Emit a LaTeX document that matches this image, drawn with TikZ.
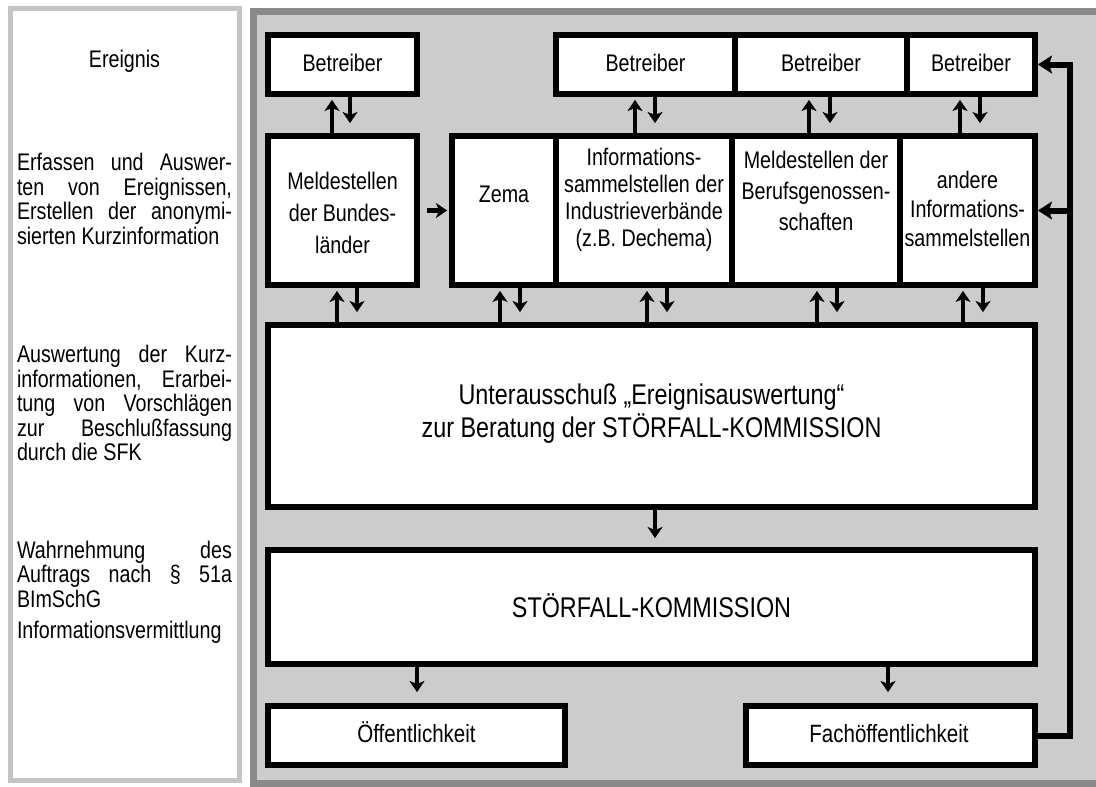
\documentclass[tikz,border=0pt]{standalone}
\usepackage{fontspec}
\setmainfont[FakeStretch=0.82]{Liberation Sans}
\usetikzlibrary{arrows.meta}
\definecolor{panelfill}{RGB}{204,204,204}
\definecolor{panelborder}{RGB}{138,138,138}
\definecolor{leftborder}{RGB}{196,196,196}
\tikzset{
  box/.style={draw=black, line width=6pt, fill=white, inner sep=0pt, outer sep=3pt},
  boxtxt/.style={align=center, inner sep=0pt, font=\fontsize{24}{30}\selectfont},
  basetxt/.style={anchor=base, inner sep=0pt, font=\fontsize{24}{30}\selectfont},
  bigtxt/.style={align=center, inner sep=0pt, font=\fontsize{28.5}{33}\selectfont},
  lefttxt/.style={align=justify, text width=215pt, inner sep=0pt, font=\fontsize{24}{24.5}\selectfont},
  tip/.tip={Stealth[length=11pt,width=15pt,inset=3pt,line width=0.4pt]},
  bigtip/.tip={Stealth[length=14pt,width=18pt,inset=3pt,line width=0.4pt]},
  uparr/.style={line width=4.5pt, -tip, shorten >=3pt},
  dnarr/.style={line width=4.5pt, -tip, shorten >=10pt},
  fbline/.style={line width=6pt, -bigtip}
}
\newcommand\udpair[4]{%
  \draw[uparr] (#1,0 |- #3.north) -- (#1,0 |- #4.south);
  \draw[dnarr] (#2,0 |- #4.south) -- (#2,0 |- #3.north);}
\begin{document}
\begin{tikzpicture}[x=1pt,y=-1pt]
\useasboundingbox (0,0) rectangle (1096,787);
\clip (0,0) rectangle (1096,787);
\fill[white] (0,0) rectangle (1096,787);
% panels
\draw[leftborder, line width=5pt, fill=white] (10.5,8) rectangle (239.5,780);
\draw[panelborder, line width=7pt, fill=panelfill] (253.5,11) rectangle (1110,783);

% left column texts
\node[boxtxt] (lt1) at (124.5,61) {Ereignis};
\node[lefttxt] (lt2) at (124.5,199) {Erfassen und Auswer-\linebreak ten von Ereignissen,\linebreak Erstellen der anonymi-\linebreak sierten Kurzinformation};
\node[lefttxt] (lt3) at (124.5,403) {Auswertung der Kurz-\linebreak informationen, Erarbei-\linebreak tung von Vorschlägen\linebreak zur Beschlußfassung\linebreak durch die SFK};
\node[lefttxt] (lt4) at (124.5,574) {Wahrnehmung des\linebreak Auftrags nach § 51a\linebreak BImSchG};
\node[lefttxt] (lt5) at (124.5,632) {Informationsvermittlung};

% top row: Betreiber
\node[box, minimum width=149pt, minimum height=59pt] (b1) at (342.5,64.5) {};
\node[box, minimum width=179pt, minimum height=59pt] (b2) at (645.5,64.5) {};
\node[box, minimum width=172pt, minimum height=59pt] (b3) at (821,64.5) {};
\node[box, minimum width=128pt, minimum height=59pt] (b4) at (971,64.5) {};
\node[basetxt] (tb1) at (342.5,71) {Betreiber};
\node[basetxt] (tb2) at (645.5,71) {Betreiber};
\node[basetxt] (tb3) at (821,71) {Betreiber};
\node[basetxt] (tb4) at (971,71) {Betreiber};

% middle row
\node[box, minimum width=149pt, minimum height=149pt] (m1) at (342.5,210.5) {};
\node[box, minimum width=104pt, minimum height=149pt] (zema) at (504,210.5) {};
\node[box, minimum width=176pt, minimum height=149pt] (info) at (644,210.5) {};
\node[box, minimum width=168pt, minimum height=149pt] (beruf) at (816,210.5) {};
\node[box, minimum width=135pt, minimum height=149pt] (andere) at (967.5,210.5) {};
\node[boxtxt, font=\fontsize{24}{32}\selectfont] (tm1) at (342.5,213) {Meldestellen\\der Bundes-\\länder};
\node[basetxt] (tzema) at (504,202) {Zema};
\node[boxtxt, font=\fontsize{24}{27}\selectfont] (tinfo) at (644,200) {Informations-\\sammelstellen der\\Industrieverbände\\(z.B. Dechema)};
\node[boxtxt, font=\fontsize{24}{31}\selectfont] (tberuf) at (816,191) {Meldestellen der\\Berufsgenossen-\\schaften};
\node[boxtxt, font=\fontsize{24}{29}\selectfont] (tandere) at (967.5,209) {andere\\Informations-\\sammelstellen};

% big boxes
\node[box, minimum width=767pt, minimum height=182pt] (u) at (651.5,416) {};
\node[bigtxt] (tu) at (651.5,414) {Unterausschuß „Ereignisauswertung“\\zur Beratung der STÖRFALL-KOMMISSION};
\node[box, minimum width=767pt, minimum height=114pt] (s) at (651.5,607) {};
\node[bigtxt] (ts) at (651.5,606) {STÖRFALL-KOMMISSION};

% bottom boxes
\node[box, minimum width=297pt, minimum height=59pt] (oe) at (416.5,735.5) {};
\node[box, minimum width=289pt, minimum height=59pt] (fach) at (890.5,735.5) {};
\node[basetxt, font=\fontsize{25}{30}\selectfont] (toe) at (416.5,742) {Öffentlichkeit};
\node[basetxt, font=\fontsize{25}{30}\selectfont] (tfach) at (889,742) {Fachöffentlichkeit};

% arrow pairs between Betreiber and middle row
\udpair{332}{350}{m1}{b1}
\udpair{635}{655}{info}{b2}
\udpair{809}{830}{beruf}{b3}
\udpair{960}{980}{andere}{b4}
% arrow pairs between middle row and Unterausschuss
\udpair{337}{357}{u}{m1}
\udpair{500}{520}{u}{zema}
\udpair{647}{667}{u}{info}
\udpair{817}{837}{u}{beruf}
\udpair{963}{983}{u}{andere}

% Meldestellen -> Zema
\draw[line width=4.5pt, -tip, shorten <=7pt, shorten >=2pt] (m1.east) -- (zema.west);
% downward flow
\draw[dnarr, shorten >=9pt] (655,0 |- u.south) -- (655,0 |- s.north);
\draw[dnarr, shorten >=11pt] (417,0 |- s.south) -- (417,0 |- oe.north);
\draw[dnarr, shorten >=11pt] (888,0 |- s.south) -- (888,0 |- fach.north);

% feedback line
\coordinate (rail) at (1070,0);
\draw[fbline] (fach.east) -| (b4.east -| rail) -- (b4.east);
\draw[fbline] (andere.east -| rail) -- (andere.east);
\end{tikzpicture}
\end{document}
